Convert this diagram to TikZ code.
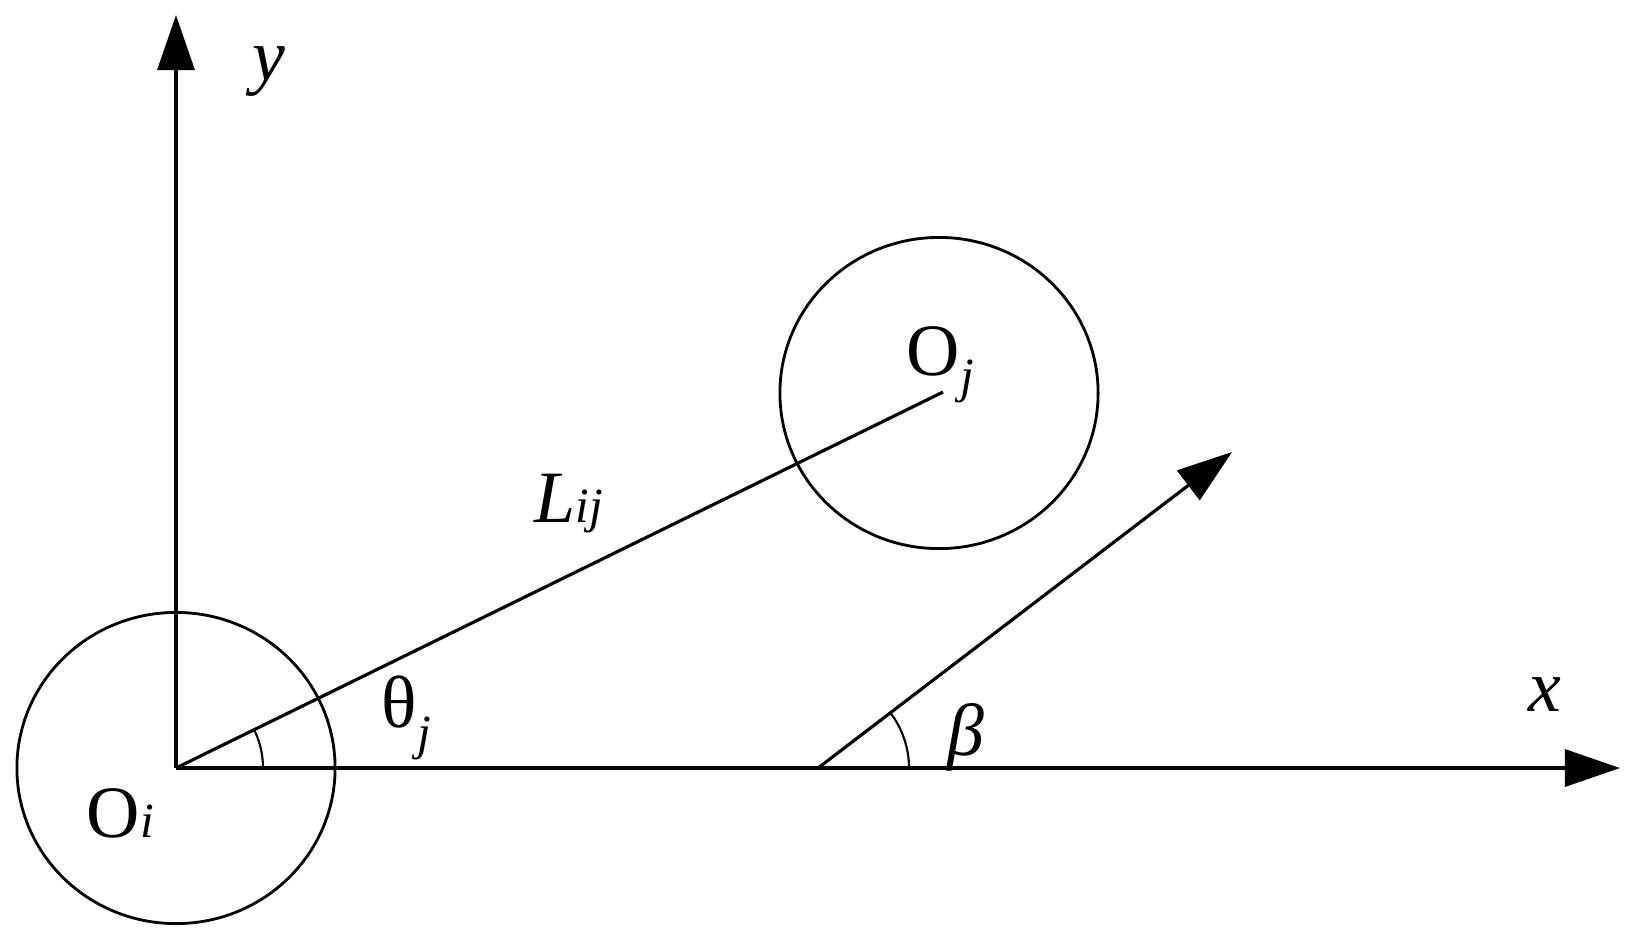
\documentclass[tikz,border=0pt]{standalone}
\usepackage{fontspec}
\setmainfont{Liberation Serif}
\usetikzlibrary{arrows.meta,shapes.geometric}

\tikzset{
  axis/.style={line width=0.9pt, -{Triangle[length=0.55cm,width=0.37cm]}},
  disc/.style={draw, ellipse, line width=0.8pt, minimum width=3.18cm, minimum height=3.11cm, inner sep=0pt},
  lbl/.style={inner sep=0pt, font=\fontsize{21}{25}\selectfont},
  anglearc/.style={line width=0.6pt},
}
\newcommand{\lowsub}[2][0pt]{\raisebox{-#1}{\fontsize{14}{14}\selectfont\itshape #2}}

\begin{document}
\begin{tikzpicture}[x=0.01cm, y=-0.01cm]
    \useasboundingbox (0,0) rectangle (1637,941);
    % axes
    \coordinate (Oi) at (176,768);
    \coordinate (ytip) at (176,15);
    \coordinate (xtip) at (1620,768);
    \draw[axis] (Oi) -- (ytip);
    \draw[axis] (Oi) -- (xtip);
    
    % the two discs
    \coordinate (Oj) at (939,393);
    \node (ci) [disc] at (Oi) {};
    \node (cj) [disc] at (Oj) {};
    \coordinate (Lend) at (943,392);
    \draw[line width=0.9pt] (Oi) -- (Lend);
    
    % heading
    \coordinate (vstart) at (818,768);
    \coordinate (vtip) at (1232,452);
    \draw[axis] (vstart) -- (vtip);
    
    % angles
    \draw[anglearc] (Oi) ++(87,0) arc[start angle=0, end angle=26.1, radius=0.87cm];
    \draw[anglearc] (vstart) ++(91,0) arc[start angle=0, end angle=37.3, radius=0.91cm];
    
    % labels
    \node[lbl] (ylab) at (269,72) {\itshape y};
    \node[lbl] (xlab) at (1545,695) {\itshape x};
    \node[lbl, anchor=base west] (oilab) at (86,837) {O\lowsub{i}};
    \node[lbl, anchor=base west] (ojlab) at (906,375) {O\lowsub[5pt]{j}};
    \node[lbl, anchor=base west] (llab) at (534,522) {\itshape L\lowsub{ij}};
    \node[lbl, anchor=base west] (thlab) at (381,727) {θ\lowsub[6.5pt]{j}};
    \node[lbl] (betalab) at (966,737) {\itshape β};
\end{tikzpicture}
\end{document}
